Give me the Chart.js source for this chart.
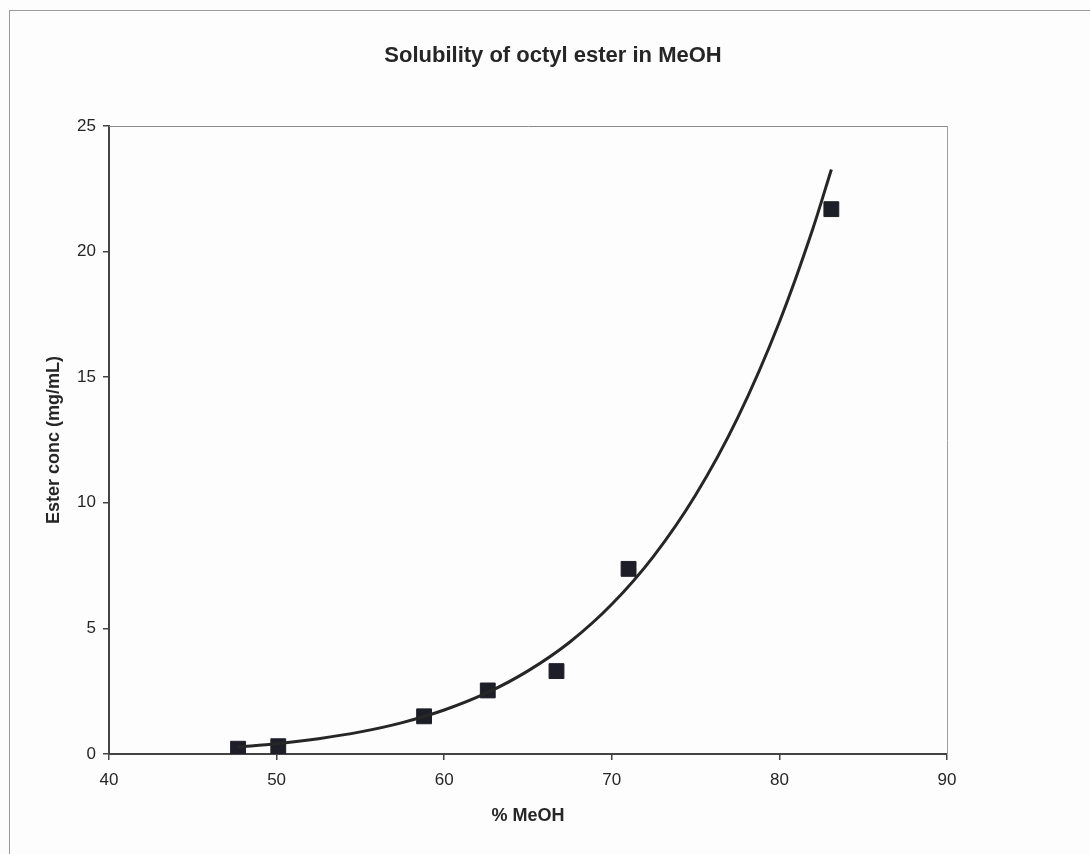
<!DOCTYPE html>
<html>
<head>
<meta charset="utf-8">
<title>Solubility of octyl ester in MeOH</title>
<script src="https://cdn.jsdelivr.net/npm/chart.js@4.4.1/dist/chart.umd.min.js"></script>
<style>
  html, body { margin: 0; padding: 0; background: #fdfdfd; }
  body { width: 1090px; height: 854px; overflow: hidden; position: relative; }
  #frame {
    position: absolute; left: 9px; top: 10px;
    width: 1086px; height: 860px;
    border: 1px solid #9a9a9a; background: #fdfdfd;
  }
  #wrap { position: absolute; left: 0; top: 0; width: 1086px; height: 843px; }
</style>
</head>
<body>
<div id="frame"><div id="wrap"><canvas id="chart"></canvas></div></div>
<script>
// Measured solubility: % methanol vs ester concentration (mg/mL)
const meohPct   = [47.7, 50.1, 58.8, 62.6, 66.7, 71.0, 83.1];
const esterConc = [0.21, 0.31, 1.50, 2.53, 3.30, 7.37, 21.69];

// Power-law trendline
const trendX = [47.7, 50, 52.5, 55, 57.5, 60, 62.5, 65, 67.5, 70, 72.5, 75, 77.5, 80, 82, 83.1];
const trendY = [0.28, 0.41, 0.61, 0.88, 1.25, 1.75, 2.42, 3.31, 4.46, 5.96, 7.88, 10.31, 13.37, 17.20, 20.92, 23.27];

// Axis ranges and tick spacing
const xTicks = [40, 50, 60, 70, 80, 90];
const yTicks = [0, 5, 10, 15, 20, 25];

const FONT = "'Liberation Sans', Arial, Helvetica, sans-serif";
const ink = '#262626';

const measured = meohPct.map((x, i) => ({ x, y: esterConc[i] }));
const trend = trendX.map((x, i) => ({ x, y: trendY[i] }));

new Chart(document.getElementById('chart'), {
  type: 'scatter',
  data: {
    datasets: [
      {
        label: 'Trend',
        data: trend,
        showLine: true,
        cubicInterpolationMode: 'monotone',
        borderColor: ink,
        borderWidth: 3,
        pointRadius: 0,
        pointHoverRadius: 0,
        order: 0
      },
      {
        label: 'Ester conc',
        data: measured,
        showLine: false,
        pointStyle: 'rect',
        pointRadius: 10.5,
        pointHoverRadius: 10.5,
        backgroundColor: '#1e1e28',
        borderColor: '#1e1e28',
        borderWidth: 1,
        order: 1
      }
    ]
  },
  options: {
    responsive: true,
    maintainAspectRatio: false,
    animation: false,
    events: [],
    layout: { padding: 0 },
    plugins: {
      legend: { display: false },
      tooltip: { enabled: false },
      title: {
        display: true,
        text: 'Solubility of octyl ester in MeOH',
        color: ink,
        font: { family: FONT, size: 22, weight: 'bold', lineHeight: 1.2 },
        padding: { top: 31.8, bottom: 56.8 }
      }
    },
    scales: {
      x: {
        type: 'linear',
        position: 'bottom',
        min: xTicks[0],
        max: xTicks[xTicks.length - 1],
        afterBuildTicks: (s) => { s.ticks = xTicks.map(v => ({ value: v })); },
        afterFit: (s) => { s.height = 100; },
        ticks: { color: ink, padding: 9.8, font: { family: FONT, size: 17 } },
        grid: { drawOnChartArea: false, drawTicks: true, tickLength: 6, color: '#444', lineWidth: 1.5 },
        border: { display: true, color: '#444', width: 2 },
        title: {
          display: true,
          text: '% MeOH',
          color: ink,
          font: { family: FONT, size: 18, weight: 'bold', lineHeight: 1.2 },
          padding: { top: 0, bottom: 27.2 }
        }
      },
      y: {
        type: 'linear',
        position: 'left',
        min: yTicks[0],
        max: yTicks[yTicks.length - 1],
        afterBuildTicks: (s) => { s.ticks = yTicks.map(v => ({ value: v })); },
        afterFit: (s) => { s.width = 99; },
        ticks: { color: ink, padding: 7, font: { family: FONT, size: 17 } },
        grid: { drawOnChartArea: false, drawTicks: true, tickLength: 6, color: '#444', lineWidth: 1.5 },
        border: { display: true, color: '#444', width: 2 },
        title: {
          display: true,
          text: 'Ester conc (mg/mL)',
          color: ink,
          font: { family: FONT, size: 18, weight: 'bold', lineHeight: 1.2 },
          padding: { top: 33.2, bottom: 0 }
        }
      },
      xTop: {
        type: 'linear',
        position: 'top',
        min: xTicks[0],
        max: xTicks[xTicks.length - 1],
        afterFit: (s) => { s.height = 0; },
        ticks: { display: false },
        grid: { display: false, drawTicks: false },
        border: { display: true, color: '#8a8a8a', width: 1 }
      },
      yRight: {
        type: 'linear',
        position: 'right',
        min: yTicks[0],
        max: yTicks[yTicks.length - 1],
        afterFit: (s) => { s.width = 149; },
        ticks: { display: false },
        grid: { display: false, drawTicks: false },
        border: { display: true, color: '#a0a0a0', width: 1 }
      }
    }
  }
});
</script>
</body>
</html>
